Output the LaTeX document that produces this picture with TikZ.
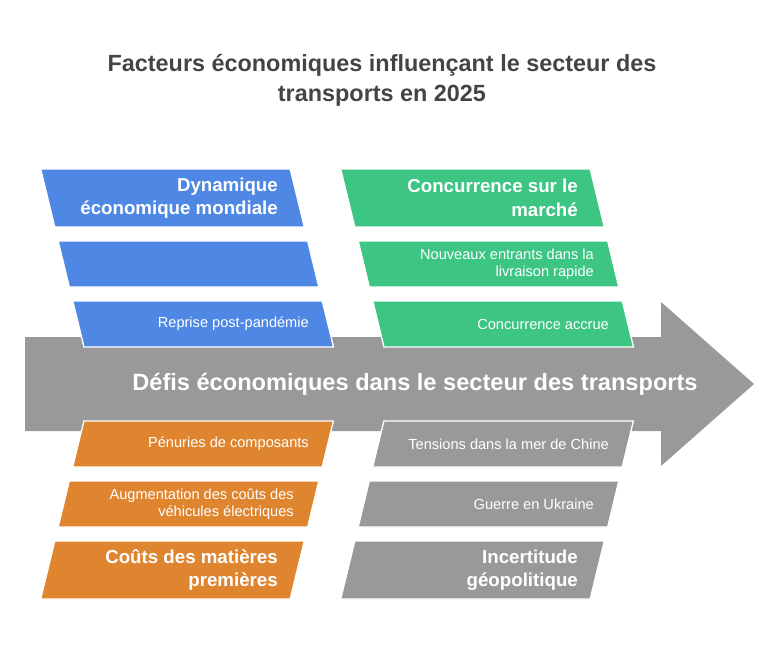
\documentclass[tikz,border=0pt]{standalone}
\usepackage{fontspec}
\setmainfont{Liberation Sans}
\usetikzlibrary{positioning}

\definecolor{dynblue}{HTML}{4F88E4}
\definecolor{mktgreen}{HTML}{3DC583}
\definecolor{costorange}{HTML}{E0852F}
\definecolor{geogray}{HTML}{999999}
\definecolor{titlegray}{HTML}{444444}

\begin{document}
\begin{tikzpicture}[x=1pt, y=-1pt,
    slab/.style={fill=#1, draw=white, line width=1.3pt},
    headtxt/.style={font=\fontsize{18.7}{23.5}\selectfont\bfseries, text=white, align=right, anchor=east, inner sep=0pt},
    itemtxt/.style={font=\fontsize{14.6}{17.5}\selectfont, text=white, align=right, anchor=east, inner sep=0pt}
  ]
    \useasboundingbox (0,0) rectangle (780,648);

    \node[font=\fontsize{23.4}{30}\selectfont\bfseries, text=titlegray, align=center] (title) at (382,80)
      {Facteurs économiques influençant le secteur des\\transports en 2025};

    % spine arrow
    \fill[geogray] (25,337) -- (661,337) -- (661,302) -- (754,384) -- (661,466) -- (661,431) -- (25,431) -- cycle;
    \node[font=\fontsize{23.6}{26}\selectfont\bfseries, text=white, inner sep=0pt] (spine) at (415,384)
      {Défis économiques dans le secteur des transports};

    % upper bones
    \draw[slab=dynblue] (40.7,169) -- (290.2,169) -- (304.3,227) -- (54.8,227) -- cycle;
    \draw[slab=dynblue] (58.2,241) -- (307.7,241) -- (318.8,287) -- (69.3,287) -- cycle;
    \draw[slab=dynblue] (72.8,301) -- (322.3,301) -- (333.5,347) -- (84,347) -- cycle;
    \draw[slab=mktgreen] (340.7,169) -- (590.2,169) -- (604.3,227) -- (354.8,227) -- cycle;
    \draw[slab=mktgreen] (358.2,241) -- (607.7,241) -- (618.8,287) -- (369.3,287) -- cycle;
    \draw[slab=mktgreen] (372.8,301) -- (622.3,301) -- (633.5,347) -- (384,347) -- cycle;

    % lower bones
    \draw[slab=costorange] (83.9,421) -- (333.4,421) -- (322.2,467) -- (72.7,467) -- cycle;
    \draw[slab=costorange] (69.3,481) -- (318.8,481) -- (307.7,527) -- (58.2,527) -- cycle;
    \draw[slab=costorange] (54.8,541) -- (304.3,541) -- (290.2,599) -- (40.7,599) -- cycle;
    \draw[slab=geogray] (383.9,421) -- (633.4,421) -- (622.2,467) -- (372.7,467) -- cycle;
    \draw[slab=geogray] (369.3,481) -- (618.8,481) -- (607.7,527) -- (358.2,527) -- cycle;
    \draw[slab=geogray] (354.8,541) -- (604.3,541) -- (590.2,599) -- (340.7,599) -- cycle;

    \node[headtxt] (dyn) at (278,198) {Dynamique\\économique mondiale};
    \node[itemtxt] (reprise) at (309,324) {Reprise post-pandémie};
    \node[headtxt] (conc) at (578,198) {Concurrence sur le\\marché};
    \node[itemtxt] (entrants) at (594,264) {Nouveaux entrants dans la\\livraison rapide};
    \node[itemtxt] (accrue) at (609,324) {Concurrence accrue};

    \node[itemtxt] (penuries) at (309,444) {Pénuries de composants};
    \node[itemtxt] (vehic) at (294,504) {Augmentation des coûts des\\véhicules électriques};
    \node[headtxt] (matieres) at (278,570) {Coûts des matières\\premières};
    \node[itemtxt] (chine) at (609,444) {Tensions dans la mer de Chine};
    \node[itemtxt] (ukraine) at (594,504) {Guerre en Ukraine};
    \node[headtxt] (geo) at (578,570) {Incertitude\\géopolitique};
  \end{tikzpicture}
\end{document}
